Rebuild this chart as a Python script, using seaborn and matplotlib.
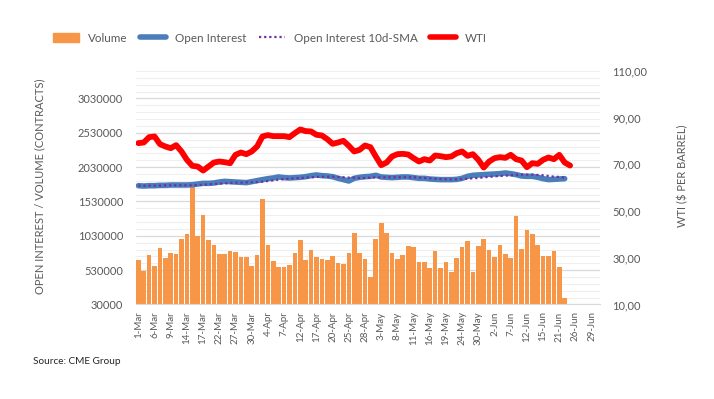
import matplotlib
matplotlib.use("Agg")
import matplotlib.pyplot as plt
from matplotlib.lines import Line2D
from matplotlib.patches import Patch
from matplotlib.ticker import FuncFormatter
import numpy as np
import pandas as pd
import seaborn as sns

# CME trading days, Mar-Jun 2023 (Memorial Day and Juneteenth closed)
DAYS = pd.bdate_range("2023-03-01", "2023-06-30", freq="C",
                      holidays=["2023-05-29", "2023-06-19"])
DATE_LABELS = [f"{d.day}-{d.strftime('%b')}" for d in DAYS]

VOLUME = [678000, 522000, 751000, 590000, 854000, 707000, 780000, 766000, 985000, 1058000,
          1750000, 1029000, 1336000, 970000, 897000, 766000, 766000, 810000, 795000, 722000,
          722000, 590000, 751000, 1570000, 897000, 663000, 576000, 576000, 605000, 780000,
          970000, 678000, 824000, 722000, 693000, 678000, 737000, 634000, 620000, 780000,
          1073000, 780000, 693000, 430000, 985000, 1219000, 1073000, 780000, 693000, 751000,
          883000, 868000, 649000, 649000, 561000, 810000, 561000, 649000, 503000, 707000,
          868000, 956000, 503000, 883000, 985000, 824000, 722000, 897000, 766000, 707000,
          1321000, 839000, 1117000, 1058000, 897000, 737000, 737000, 810000, 576000, 123000]

OPEN_INTEREST = [1760000, 1755000, 1760000, 1760000, 1765000, 1765000, 1770000, 1770000, 1770000, 1770000,
                 1774000, 1784000, 1794000, 1794000, 1799000, 1813000, 1823000, 1818000, 1813000, 1809000,
                 1804000, 1818000, 1833000, 1848000, 1862000, 1872000, 1887000, 1877000, 1872000, 1877000,
                 1882000, 1891000, 1906000, 1916000, 1906000, 1901000, 1891000, 1867000, 1848000, 1828000,
                 1867000, 1882000, 1891000, 1896000, 1911000, 1887000, 1882000, 1877000, 1882000, 1887000,
                 1887000, 1877000, 1867000, 1867000, 1857000, 1852000, 1848000, 1848000, 1848000, 1852000,
                 1867000, 1896000, 1911000, 1916000, 1921000, 1926000, 1930000, 1935000, 1945000, 1935000,
                 1921000, 1901000, 1896000, 1896000, 1882000, 1862000, 1848000, 1852000, 1857000, 1862000]

OI_SMA10 = [1760000, 1760000, 1760000, 1760000, 1760000, 1765000, 1765000, 1765000, 1765000, 1765000,
            1765000, 1770000, 1774000, 1779000, 1784000, 1789000, 1794000, 1799000, 1804000, 1804000,
            1809000, 1809000, 1813000, 1818000, 1828000, 1838000, 1848000, 1857000, 1862000, 1867000,
            1872000, 1877000, 1882000, 1887000, 1891000, 1891000, 1891000, 1887000, 1882000, 1877000,
            1877000, 1872000, 1872000, 1877000, 1882000, 1882000, 1882000, 1882000, 1882000, 1882000,
            1882000, 1882000, 1877000, 1872000, 1867000, 1862000, 1857000, 1852000, 1852000, 1852000,
            1857000, 1862000, 1867000, 1872000, 1882000, 1887000, 1896000, 1901000, 1906000, 1911000,
            1916000, 1921000, 1921000, 1921000, 1916000, 1911000, 1901000, 1891000, 1887000, 1877000]

WTI = [79.10, 79.39, 81.67, 81.96, 78.67, 77.67, 76.95, 78.24, 75.52, 71.95,
       69.38, 69.08, 67.37, 69.08, 70.80, 71.23, 70.94, 70.52, 74.09, 75.09,
       74.38, 75.52, 77.67, 81.96, 82.53, 82.10, 82.10, 82.10, 81.67, 83.39,
       84.96, 84.25, 84.11, 82.68, 82.39, 80.82, 78.81, 79.38, 80.10, 77.95,
       75.52, 76.24, 78.10, 77.38, 73.38, 69.66, 70.80, 73.38, 74.38, 74.52,
       74.23, 72.66, 71.23, 72.23, 71.66, 73.81, 73.52, 73.09, 73.38, 74.81,
       75.52, 73.66, 74.38, 71.95, 68.66, 71.23, 72.66, 73.09, 72.80, 74.09,
       72.23, 71.66, 68.80, 70.52, 70.23, 71.95, 72.95, 72.23, 74.09, 70.80,
       69.51]

LEFT_TICKS = [30000, 530000, 1030000, 1530000, 2030000, 2530000, 3030000]
RIGHT_TICKS = [10, 30, 50, 70, 90, 110]

ORANGE = "#F79646"
BLUE = "#4A7EBB"
PURPLE = "#7030A0"
RED = "#FF0000"
TXT = "#595959"

sns.set_style("white")
plt.rcParams["font.family"] = ["Lato", "DejaVu Sans"]

fig = plt.figure(figsize=(7.14, 3.99), dpi=100)
ax = fig.add_axes([0.190, 0.237, 0.650, 0.585])

vol_df = pd.DataFrame({"date": DATE_LABELS[:len(VOLUME)], "volume": VOLUME})
sns.barplot(data=vol_df, x="date", y="volume", order=DATE_LABELS, color=ORANGE,
            saturation=1, width=0.86, errorbar=None, linewidth=0, ax=ax)

idx = np.arange(len(OPEN_INTEREST))
sns.lineplot(x=idx, y=OPEN_INTEREST, color=BLUE, lw=4, ax=ax,
             solid_joinstyle="round", solid_capstyle="round")
sns.lineplot(x=idx, y=OI_SMA10, color=PURPLE, lw=1.6, ls=(0, (1, 1.3)), ax=ax)

ax2 = ax.twinx()
sns.lineplot(x=np.arange(len(WTI)), y=WTI, color=RED, lw=4.2, ax=ax2,
             solid_joinstyle="round", solid_capstyle="round")

n = len(DATE_LABELS)
ax.set_xlim(-0.5, n - 0.5)
ax.set_ylim(30000, 3430000)
ax2.set_ylim(10, 110)

# x axis: every trading day ticked, every third labelled
ax.set_xticks(range(0, n, 3))
ax.set_xticklabels(DATE_LABELS[::3], rotation=90, fontsize=7, color=TXT)
ax.set_xticks(range(n), minor=True)
ax.tick_params(axis="x", which="both", length=3, color="#BFBFBF", pad=2)
ax.set_xlabel("")

ax.set_yticks(LEFT_TICKS)
ax.set_yticks(np.arange(30000, 3430001, 100000), minor=True)
ax.yaxis.set_major_formatter(FuncFormatter(lambda v, _: f"{int(v)}"))
ax.tick_params(axis="y", which="both", length=0, labelsize=8, labelcolor=TXT, pad=9)
ax.set_ylabel("")
ax.grid(axis="y", which="major", color="#D9D9D9", lw=0.9)
ax.grid(axis="y", which="minor", color="#EFEFEF", lw=0.8)
ax.grid(axis="x", visible=False)
ax.set_axisbelow(True)

ax2.set_yticks(RIGHT_TICKS)
ax2.yaxis.set_major_formatter(FuncFormatter(lambda v, _: f"{v:.2f}".replace(".", ",")))
ax2.tick_params(axis="y", length=0, labelsize=8, labelcolor=TXT, pad=9)
ax2.set_ylabel("")
ax2.grid(False)

for a in (ax, ax2):
    for s in a.spines.values():
        s.set_visible(False)
ax.spines["bottom"].set_visible(True)
ax.spines["bottom"].set_color("#D9D9D9")

fig.text(40 / 714, 1 - 186 / 399, "OPEN INTEREST / VOLUME (CONTRACTS)", rotation=90,
         ha="center", va="center", fontsize=8, color=TXT)
fig.text(683 / 714, 1 - 176 / 399, "WTI ($ PER BARREL)", rotation=90,
         ha="center", va="center", fontsize=8, color=TXT)
fig.text(33 / 714, 1 - 362 / 399, "Source: CME Group", ha="left", va="center",
         fontsize=7.2, color="#262626")

handles = [Patch(color=ORANGE), Line2D([], [], color=BLUE, lw=4),
           Line2D([], [], color=PURPLE, lw=1.6, ls=(0, (1, 1.3))),
           Line2D([], [], color=RED, lw=4)]
labels = ["Volume", "Open Interest", "Open Interest 10d-SMA", "WTI"]
fig.legend(handles, labels, loc="center", bbox_to_anchor=(270 / 714, 1 - 38 / 399),
           ncol=4, frameon=False, fontsize=8.4, handlelength=2.25, handletextpad=0.75,
           columnspacing=1.05, labelcolor=TXT)

fig.savefig("out.png", dpi=100)
